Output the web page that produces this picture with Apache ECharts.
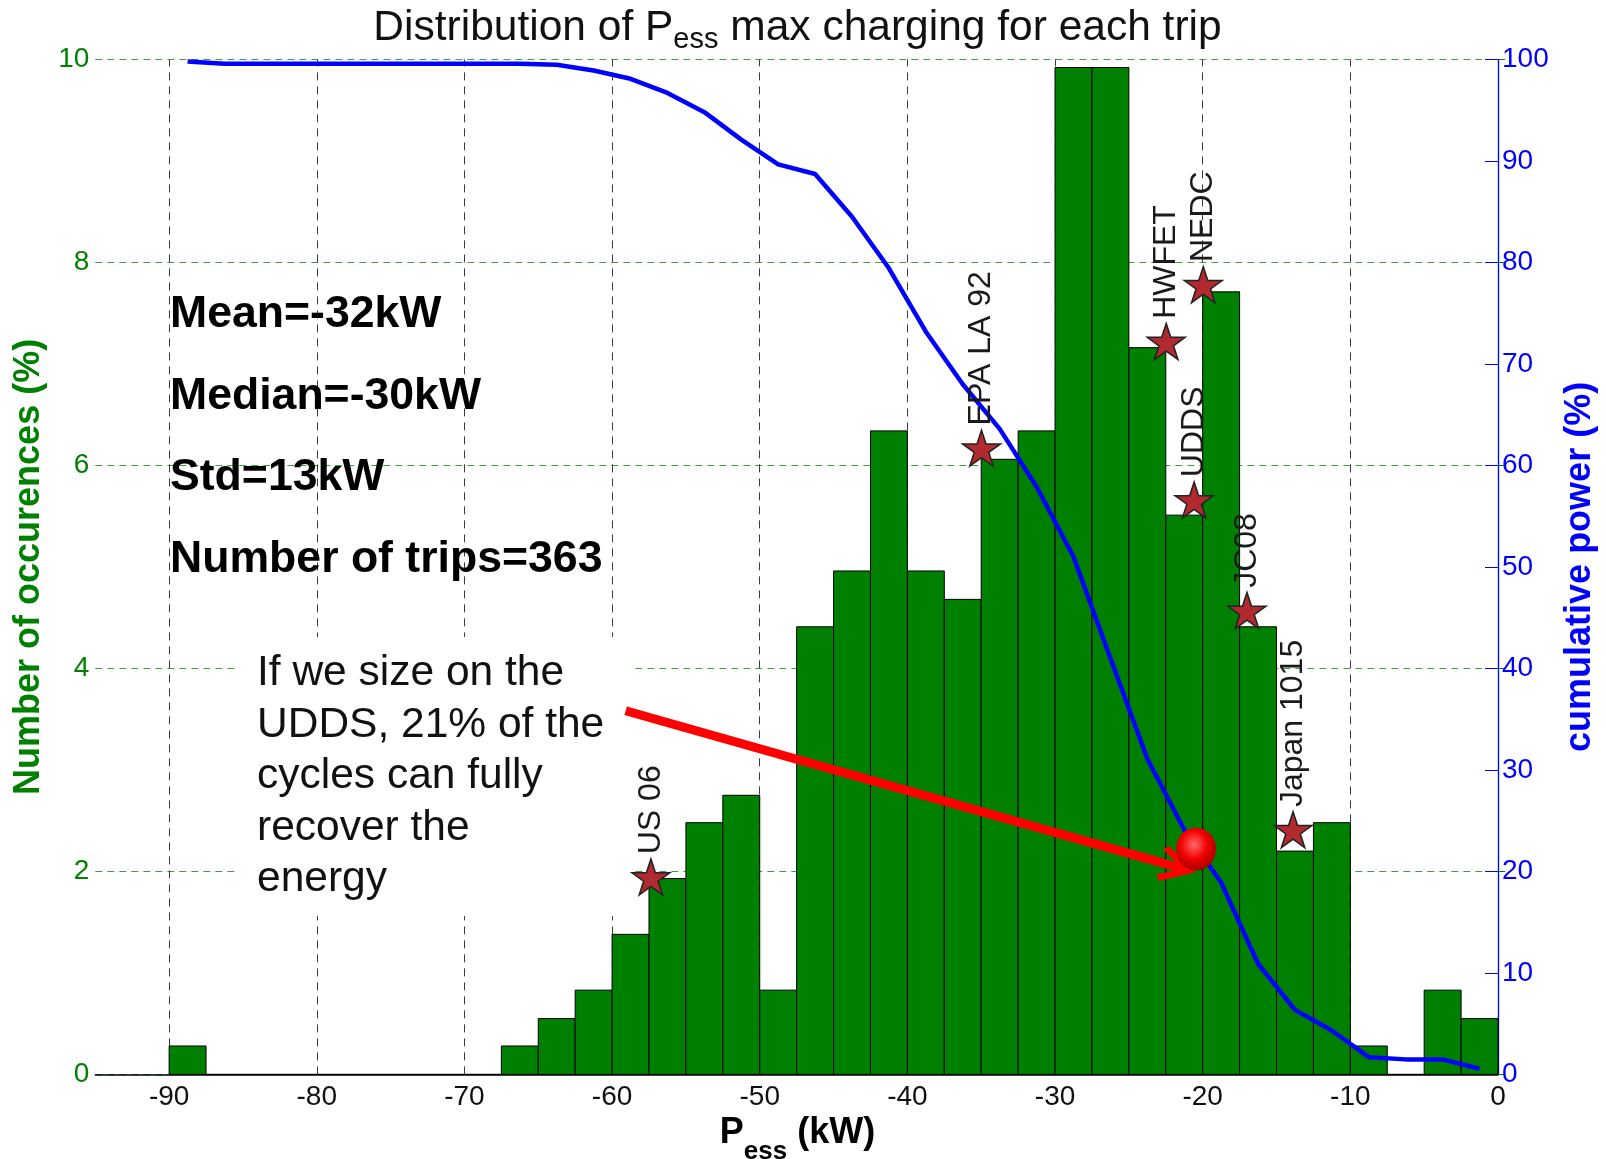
<!DOCTYPE html>
<html><head><meta charset="utf-8">
<script src="https://cdn.jsdelivr.net/npm/echarts@6/dist/echarts.min.js"></script>
<style>html,body{margin:0;padding:0;background:#fff}#c{width:1606px;height:1159px}</style>
</head><body><div id="c"></div>
<script>
// ---- data ----
const binStarts = [-90,-87.5,-85,-82.5,-80,-77.5,-75,-72.5,-70,-67.5,-65,-62.5,-60,-57.5,-55,-52.5,-50,-47.5,-45,-42.5,-40,-37.5,-35,-32.5,-30,-27.5,-25,-22.5,-20,-17.5,-15,-12.5,-10,-7.5,-5,-2.5];
const binEnds   = [-87.5,-85,-82.5,-80,-77.5,-75,-72.5,-70,-67.5,-65,-62.5,-60,-57.5,-55,-52.5,-50,-47.5,-45,-42.5,-40,-37.5,-35,-32.5,-30,-27.5,-25,-22.5,-20,-17.5,-15,-12.5,-10,-7.5,-5,-2.5,0];
const occurrences = [0.28,0,0,0,0,0,0,0,0,0.28,0.55,0.83,1.38,1.93,2.48,2.75,0.83,4.41,4.96,6.34,4.96,4.68,6.06,6.34,9.92,9.92,7.16,5.51,7.71,4.41,2.20,2.48,0.28,0,0.83,0.55];
const binCenters = [-88.75,-86.25,-83.75,-81.25,-78.75,-76.25,-73.75,-71.25,-68.75,-66.25,-63.75,-61.25,-58.75,-56.25,-53.75,-51.25,-48.75,-46.25,-43.75,-41.25,-38.75,-36.25,-33.75,-31.25,-28.75,-26.25,-23.75,-21.25,-18.75,-16.25,-13.75,-11.25,-8.75,-6.25,-3.75,-1.25];
const cumulativePower = [99.8,99.57,99.57,99.57,99.57,99.57,99.57,99.57,99.57,99.57,99.47,98.9,98.09,96.7,94.8,92.1,89.66,88.71,84.5,79.42,73.17,68.0,63.6,57.9,51.0,41.0,31.1,24.1,18.9,10.9,6.36,4.33,1.70,1.48,1.48,0.56];
const cycleNames = ['US 06','EPA LA 92','HWFET','NEDC','UDDS','JC08','Japan 1015'];
const cycleX = [-57.37,-34.98,-22.47,-19.96,-20.58,-17.0,-13.88];
const cycleY = [1.945,6.17,7.22,7.78,5.66,4.57,2.41];
const uddsPoint = [-20.45, 22.2];
const arrowStart = [-59.08, 35.83];
const arrowEnd = [-21.84, 20.47];
const xTickLabels = [-90,-80,-70,-60,-50,-40,-30,-20,-10,0];
const xGridValues = [-90,-80,-70,-60,-50,-40,-30,-20,-10];
const statsLines = ['Mean=-32kW','Median=-30kW','Std=13kW','Number of trips=363'];
const noteText = 'If we size on the\nUDDS, 21% of the\ncycles can fully\nrecover the\nenergy';
const titleParts = ['Distribution of P','ess',' max charging for each trip'];
const xNameParts = ['P','ess',' (kW)'];
const leftAxisName = 'Number of occurences (%)';
const rightAxisName = 'cumulative power (%)';

// ---- chart ----
const FF = '"Liberation Sans", Arial, Helvetica, sans-serif';
const chart = echarts.init(document.getElementById('c'), null, {renderer:'canvas'});
const barData = binStarts.map((s,i)=>[s, binEnds[i], occurrences[i]]);
const lineData = binCenters.map((c,i)=>[c, cumulativePower[i]]);
const starData = cycleNames.map((n,i)=>({name:n, value:[cycleX[i], cycleY[i]]}));
const starPath = 'path://M50,0 L61.23,34.55 L97.55,34.55 L68.17,55.9 L79.39,90.45 L50,69.1 L20.61,90.45 L31.83,55.9 L2.45,34.55 L38.77,34.55 Z';
const chevron = 'path://M50,0 L100,78 L86,90 L50,32 L14,90 L0,78 Z M40,20 L60,20 L60,100 L40,100 Z';
const statsY = [314.6, 397, 478, 559.5];

const option = {
  animation: false,
  backgroundColor: '#fff',
  grid: {left: 95.3, right: 105.5, top: 59.4, bottom: 84.6, containLabel: false},
  xAxis: {
    type: 'value', min: -95, max: 0, interval: 5,
    axisLine: {show: true, onZero: false, lineStyle: {color: '#000', width: 1.5}},
    axisTick: {show: false},
    splitLine: {show: false},
    axisLabel: {
      formatter: v => xTickLabels.indexOf(v) >= 0 ? String(v) : '',
      color: '#111', fontSize: 28, fontFamily: FF, margin: 9
    }
  },
  yAxis: [
    {
      type: 'value', min: 0, max: 10, interval: 2, position: 'left',
      name: leftAxisName, nameLocation: 'middle', nameRotate: 90, nameGap: 47,
      nameTextStyle: {color: '#008000', fontSize: 36, fontWeight: 'bold', fontFamily: FF},
      axisLine: {show: true, lineStyle: {color: '#008000', width: 1.2}},
      axisTick: {show: true, inside: true, length: 7, lineStyle: {color: '#008000'}},
      axisLabel: {color: '#008000', fontSize: 28, fontFamily: FF, margin: 6},
      splitLine: {show: true, lineStyle: {color: '#3f9f3f', type: [7,5], width: 1.2}}
    },
    {
      type: 'value', min: 0, max: 100, interval: 10, position: 'right',
      name: rightAxisName, nameLocation: 'middle', nameRotate: 90, nameGap: 64,
      nameTextStyle: {color: '#0000ff', fontSize: 36, fontWeight: 'bold', fontFamily: FF},
      axisLine: {show: true, lineStyle: {color: '#0000ff', width: 1.2}},
      axisTick: {show: true, inside: true, length: 13, lineStyle: {color: '#0000ff'}},
      axisLabel: {color: '#0000ff', fontSize: 28, fontFamily: FF, margin: 4},
      splitLine: {show: false}
    }
  ],
  series: [
    {
      name: 'vgrid', type: 'line', data: [], xAxisIndex: 0, yAxisIndex: 0, silent: true,
      markLine: {
        silent: true, z: 1, symbol: ['none','none'], label: {show: false},
        lineStyle: {color: '#3a3a3a', type: [8,6], width: 1},
        data: xGridValues.map(v => ({xAxis: v}))
      }
    },
    {
      name: 'occ', type: 'custom', xAxisIndex: 0, yAxisIndex: 0, z: 2,
      data: barData,
      renderItem: (params, api) => {
        const p0 = api.coord([api.value(0), api.value(2)]);
        const p1 = api.coord([api.value(1), 0]);
        return {type: 'rect', shape: {x: p0[0], y: p0[1], width: p1[0]-p0[0], height: p1[1]-p0[1]},
          style: {fill: '#008000', stroke: '#000', lineWidth: 1}};
      }
    },
    {
      name: 'cum', type: 'line', xAxisIndex: 0, yAxisIndex: 1, z: 4,
      data: lineData, showSymbol: false, symbol: 'none',
      lineStyle: {color: '#0000ff', width: 4.5}
    },
    {
      name: 'cycles', type: 'scatter', xAxisIndex: 0, yAxisIndex: 0, z: 6,
      data: starData, symbol: starPath, symbolSize: [38, 36],
      itemStyle: {color: '#b02a30', borderColor: '#222', borderWidth: 1.5, opacity: 1},
      label: {show: true, formatter: p => p.name, position: 'top', distance: 4, rotate: 90,
        align: 'left', verticalAlign: 'middle', fontSize: 32, color: '#1a1a1a', fontFamily: FF}
    },
    {
      name: 'udds', type: 'scatter', xAxisIndex: 0, yAxisIndex: 1, z: 10,
      data: [uddsPoint], symbol: 'circle', symbolSize: [40, 43],
      itemStyle: {
        color: {type: 'radial', x: 0.45, y: 0.4, r: 0.6, colorStops: [
          {offset: 0, color: '#ff6a6a'}, {offset: 0.55, color: '#f20000'}, {offset: 1, color: '#a80000'}]},
        opacity: 1
      },
      markLine: {
        silent: true, z: 9, symbol: ['none', chevron], symbolSize: [36, 42],
        label: {show: false},
        lineStyle: {color: '#ff0000', width: 9, type: 'solid'},
        data: [[{coord: arrowStart}, {coord: arrowEnd}]]
      }
    }
  ],
  graphic: [
    {type: 'text', x: 797.5, y: 28, z: 3, style: {
      text: '{a|' + titleParts[0] + '}{s|' + titleParts[1] + '}{a|' + titleParts[2] + '}',
      align: 'center', verticalAlign: 'middle',
      rich: {
        a: {fontSize: 42.5, fontFamily: FF, fill: '#111', lineHeight: 53, verticalAlign: 'middle'},
        s: {fontSize: 29, fontFamily: FF, fill: '#111', lineHeight: 29, verticalAlign: 'bottom'}
      }}},
    {type: 'text', x: 797.5, y: 1133, z: 3, style: {
      text: '{a|' + xNameParts[0] + '}{s|' + xNameParts[1] + '}{a|' + xNameParts[2] + '}',
      align: 'center', verticalAlign: 'middle',
      rich: {
        a: {fontSize: 36, fontWeight: 'bold', fontFamily: FF, fill: '#000', lineHeight: 64, verticalAlign: 'middle'},
        s: {fontSize: 26, fontWeight: 'bold', fontFamily: FF, fill: '#000', lineHeight: 22, verticalAlign: 'bottom'}
      }}},
    ...statsLines.map((t, i) => ({type: 'text', x: 170, y: statsY[i], z: 3, style: {
      text: t, fontSize: 44.6, fontWeight: 'bold', fontFamily: FF, fill: '#000', align: 'left', verticalAlign: 'middle'}})),
    {type: 'rect', z: 3, shape: {x: 238, y: 637, width: 395, height: 279}, style: {fill: '#fff'}},
    {type: 'text', x: 257, y: 648, z: 4, style: {
      text: noteText, fontSize: 42.5, fontFamily: FF, fill: '#111', lineHeight: 51.5, align: 'left', verticalAlign: 'top'}}
  ]
};
chart.setOption(option);
</script>
</body></html>
